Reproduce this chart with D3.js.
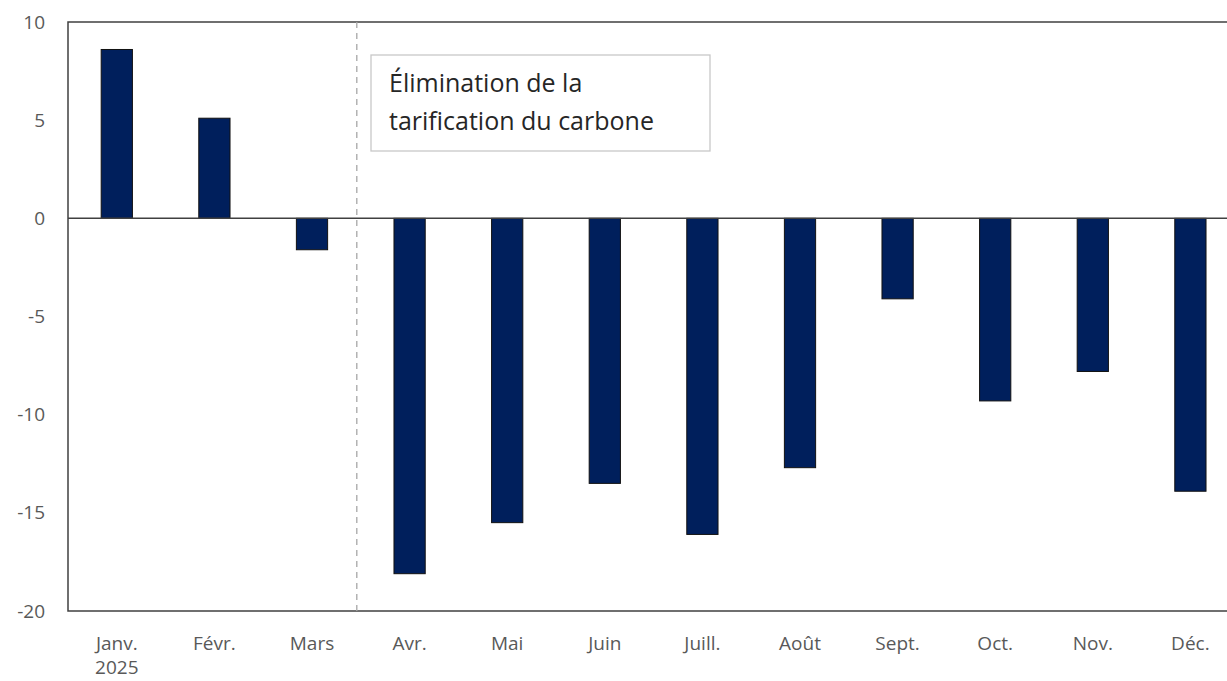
<!DOCTYPE html>
<html>
<head>
<meta charset="utf-8">
<script src="https://cdn.jsdelivr.net/npm/d3@7"></script>
<style>
  body { margin: 0; background: #fff; }
  svg text { font-family: "Open Sans", "Noto Sans", sans-serif; }
</style>
</head>
<body>
<div id="chart"></div>
<script>
var months = ["Janv.", "Févr.", "Mars", "Avr.", "Mai", "Juin", "Juill.", "Août", "Sept.", "Oct.", "Nov.", "Déc."];
var values = [8.6, 5.1, -1.6, -18.1, -15.5, -13.5, -16.1, -12.7, -4.1, -9.3, -7.8, -13.9];
var yTicks = [10, 5, 0, -5, -10, -15, -20];
var yearLabel = "2025";
var noteLines = ["Élimination de la", "tarification du carbone"];

var W = 1227, H = 681;
var margin = {left: 68, top: 22, right: 0, bottom: 71};

var svg = d3.select("#chart").append("svg")
    .attr("width", W)
    .attr("height", H);

var x = d3.scaleBand()
    .domain(months)
    .range([margin.left, margin.left + 12 * 97.6])
    .paddingInner(0.68)
    .paddingOuter(0.34);

var y = d3.scaleLinear()
    .domain([-20, 10])
    .range([H - margin.bottom + 1, margin.top]);

// frame (left, top, bottom)
svg.append("path")
    .attr("d", "M" + W + "," + y(10) + "H" + margin.left + "V" + y(-20) + "H" + W)
    .attr("fill", "none")
    .attr("stroke", "#404040")
    .attr("stroke-width", 1.5);

// y tick labels
svg.selectAll("text.ytick")
  .data(yTicks)
  .enter().append("text")
    .attr("class", "ytick")
    .attr("x", 45)
    .attr("y", function(d) { return y(d); })
    .attr("dy", "0.35em")
    .attr("text-anchor", "end")
    .attr("fill", "#595959")
    .style("font-size", "19px")
    .text(function(d) { return d; });

// dashed separator between Mars and Avr.
var sepX = (x("Mars") + x("Avr.") + x.bandwidth()) / 2 - 4;
svg.append("line")
    .attr("x1", sepX).attr("x2", sepX)
    .attr("y1", y(10)).attr("y2", y(-20))
    .attr("stroke", "#a6a6a6")
    .attr("stroke-width", 1.3)
    .attr("stroke-dasharray", "6,5");

// bars
svg.selectAll("rect.bar")
  .data(values)
  .enter().append("rect")
    .attr("class", "bar")
    .attr("x", function(d, i) { return x(months[i]); })
    .attr("width", x.bandwidth())
    .attr("y", function(d) { return y(Math.max(0, d)); })
    .attr("height", function(d) { return Math.abs(y(d) - y(0)); })
    .attr("fill", "#001f5c")
    .attr("stroke", "#111")
    .attr("stroke-width", 1);

// zero line
svg.append("line")
    .attr("x1", margin.left).attr("x2", W)
    .attr("y1", y(0)).attr("y2", y(0))
    .attr("stroke", "#404040")
    .attr("stroke-width", 1.5);

// x labels
svg.selectAll("text.xtick")
  .data(months)
  .enter().append("text")
    .attr("class", "xtick")
    .attr("x", function(d) { return x(d) + x.bandwidth() / 2; })
    .attr("y", 650)
    .attr("text-anchor", "middle")
    .attr("fill", "#595959")
    .style("font-size", "19px")
    .text(function(d) { return d; });

svg.append("text")
    .attr("x", x("Janv.") + x.bandwidth() / 2)
    .attr("y", 674)
    .attr("text-anchor", "middle")
    .attr("fill", "#595959")
    .style("font-size", "19px")
    .text(yearLabel);

// annotation box
var note = svg.append("g");
note.append("rect")
    .attr("x", 371).attr("y", 55)
    .attr("width", 339).attr("height", 96)
    .attr("fill", "#fff")
    .attr("stroke", "#c8c8c8")
    .attr("stroke-width", 1.3);
note.selectAll("text")
  .data(noteLines)
  .enter().append("text")
    .attr("x", 389)
    .attr("y", function(d, i) { return 92 + i * 38; })
    .attr("fill", "#262626")
    .style("font-size", "25px")
    .text(function(d) { return d; });
</script>
</body>
</html>
